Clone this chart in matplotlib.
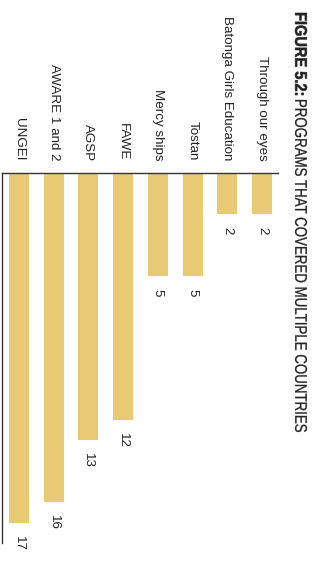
"""Figure 5.2: programs that covered multiple countries (page rotated 90 degrees)."""

import matplotlib

matplotlib.use("Agg")
import matplotlib.pyplot as plt
from matplotlib.font_manager import FontProperties
from matplotlib.patches import PathPatch
from matplotlib.textpath import TextPath
from matplotlib.transforms import Affine2D, IdentityTransform

programs = ["UNGEI", "AWARE 1 and 2", "AGSP", "FAWE", "Mercy ships",
            "Tostan", "Batonga Girls Education", "Through our eyes"]
countries = [17, 16, 13, 12, 5, 5, 2, 2]

BAR = "#E8C974"
INK = "#222222"
W, H = 319, 562


def _squeezed(fig, s, top, bottom, left, right, weight, edge=0.0):
    # condensed title: text path fitted to a box, read top to bottom
    tp = TextPath((0, 0), s, size=20, prop=FontProperties(family="Liberation Sans", weight=weight))
    ext = tp.get_extents()
    tr = (Affine2D()
          .translate(-ext.x0, -ext.y0)
          .scale((bottom - top) / ext.width, (right - left) / ext.height)
          .rotate_deg(-90)
          .translate(left, H - top))
    fig.add_artist(PathPatch(tr.transform_path(tp), facecolor=INK, edgecolor=INK,
                             lw=edge, transform=IdentityTransform()))


plt.rcParams["font.family"] = ["Liberation Sans", "DejaVu Sans"]
fig = plt.figure(figsize=(W / 100, H / 100), dpi=100)
ax = fig.add_axes([2 / W, (H - 543.3) / H, 276 / W, 370.6 / H])

x = list(range(len(programs)))
ax.bar(x, countries, width=0.576, color=BAR)
ax.set_xlim(-0.49, 7.46)
ax.set_ylim(18, 0)

for side in ("right", "bottom"):
    ax.spines[side].set_visible(False)
for side in ("left", "top"):
    ax.spines[side].set_color("#333333")
    ax.spines[side].set_linewidth(1.0)
ax.set_xticks([])
ax.set_yticks([])

for i, (name, v) in enumerate(zip(programs, countries)):
    ax.annotate(name, xy=(i, 1), xycoords=("data", "axes fraction"),
                xytext=(0, 12), textcoords="offset pixels",
                rotation=-90, ha="center", va="bottom", fontsize=9.6, color=INK)
    ax.annotate(str(v), xy=(i, v), xytext=(0, -13), textcoords="offset pixels",
                rotation=-90, ha="center", va="top", fontsize=9.6, color=INK)

_squeezed(fig, "FIGURE 5.2:", 13, 95, 295, 307, "bold", edge=0.4)
_squeezed(fig, "PROGRAMS THAT COVERED MULTIPLE COUNTRIES", 100, 432, 295, 307, "normal", edge=0.2)

fig.savefig("out.png", dpi=100)
plt.close(fig)
